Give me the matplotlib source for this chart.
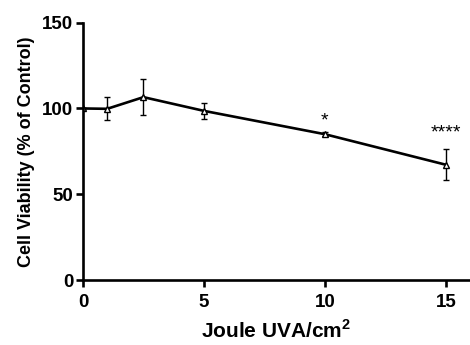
import matplotlib
matplotlib.use("Agg")
import matplotlib.pyplot as plt

plt.rcParams['font.family'] = ['Liberation Sans', 'DejaVu Sans']
plt.rcParams['font.weight'] = 'bold'
plt.rcParams['mathtext.fontset'] = 'custom'
plt.rcParams['mathtext.bf'] = 'Liberation Sans:bold'

# dose (J/cm2) vs viability
dose = [0, 1, 2.5, 5, 10, 15]
viability = [100, 99.8, 106.6, 98.6, 85, 67.2]
sem = [0, 6.7, 10.5, 4.6, 1.0, 9]
sig_labels = ["", "", "", "", "*", "****"]
sig_y = [0, 0, 0, 0, 88, 81]

fig = plt.figure(figsize=(4.7, 3.45), dpi=100)
ax = fig.add_axes([0.1766, 0.1884, 0.8234, 0.7458])

ax.errorbar(dose, viability, yerr=sem, color='black', lw=1.9, marker='^',
            markersize=4, markerfacecolor='white', markeredgewidth=1,
            ecolor='black', elinewidth=1, capsize=2, capthick=1)

for x, lab, y in zip(dose, sig_labels, sig_y):
    if lab:
        ax.text(x, y, lab, ha='center', va='bottom', fontsize=14, fontweight='normal')

ax.set_xlim(0, 16)
ax.set_ylim(0, 150)
ax.set_xticks([0, 5, 10, 15])
ax.set_yticks([0, 50, 100, 150])
ax.spines['top'].set_visible(False)
ax.spines['right'].set_visible(False)
for s in ['left', 'bottom']:
    ax.spines[s].set_linewidth(1.9)
ax.tick_params(width=1.9, length=5, labelsize=13.5)
ax.tick_params(axis='y', pad=2)
ax.tick_params(axis='x', pad=5)

ax.set_xlabel('Joule UVA/cm$^\\mathbf{2}$', fontsize=15, fontweight='bold', labelpad=6)
ax.set_ylabel('Cell Viability (% of Control)', fontsize=13, fontweight='bold', labelpad=5)

fig.savefig('out.png', dpi=100)
